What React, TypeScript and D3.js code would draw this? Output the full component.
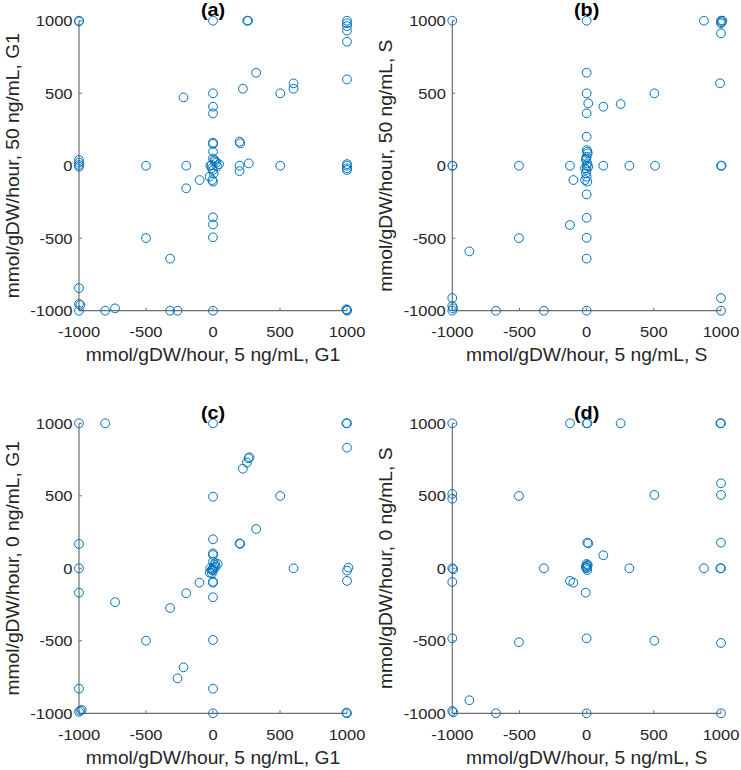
import React from "react";
import * as d3 from "d3";

// ---------- data ----------
const ticks = [-1000, -500, 0, 500, 1000];
const titles = ["(a)", "(b)", "(c)", "(d)"];
const xLabels = [
  "mmol/gDW/hour, 5 ng/mL, G1",
  "mmol/gDW/hour, 5 ng/mL, S",
  "mmol/gDW/hour, 5 ng/mL, G1",
  "mmol/gDW/hour, 5 ng/mL, S",
];
const yLabels = [
  "mmol/gDW/hour, 50 ng/mL, G1",
  "mmol/gDW/hour, 50 ng/mL, S",
  "mmol/gDW/hour, 0 ng/mL, G1",
  "mmol/gDW/hour, 0 ng/mL, S",
];

const aX = [-1000, -1000, 0, 255, 262, 1000, 1000, 1000, 1000, 1000, 1000, 322, 601, 601, 502, 223, -220, 0, 0, 0, 0, 0, 198, 203, 0,
  0, 10, 25, 45, -20, -8, 0, 5, -25, -5, 0, 15, -10, 30,
  198, 198, 267, 502, -500, -200, -100, -200, -1000, -1000, -1000, -1000, 1000, 1000, 1000, 1000,
  0, 0, 0, -500, -320, -1000, -1000, -990, -1000, -805, -731, -320, -265, 0, 1000, 995, 1000];
const aY = [1000, 995, 1000, 1000, 1000, 1000, 982, 963, 931, 855, 595, 641, 568, 531, 499, 531, 471, 499, 407, 361, 159, 150, 166, 154, 97,
  50, 39, 21, 11, 0, -18, -30, -53, -76, -99, -110, 30, 5, -5,
  0, -37, 16, 0, 0, 0, -99, -156, 39, 21, 5, -7, 11, 0, -18, -30,
  -356, -405, -494, -499, -641, -844, -954, -961, -1000, -1000, -984, -1000, -1000, -1000, -1000, -990, -995];

const bX = [-1000, 0, 873, 1000, 1005, 1000, 1010, 1000, 993, 0, 0, 12, 124, 253, 504, 0, 0,
  0, 5, 0, -5, 5, 0, -12, 12, 0, -5, 0, -12, 5, 8, -3,
  -124, -99, -504, -1000, -998, 124, 318, 509, 1000, 1005,
  0, 0, -124, 0, -504, -873, 0, -1000, -1000, -995, -1000, -675, -318, 0, 1000, 1000];
const bY = [1000, 1000, 1000, 1000, 990, 982, 1000, 913, 568, 641, 499, 430, 407, 425, 499, 361, 200,
  108, 97, 62, 39, 16, 0, -18, -7, -30, -53, -76, -99, -110, 85, 50,
  0, -99, 0, 0, 0, 0, 0, 0, 0, 0,
  -198, -359, -409, -497, -499, -591, -641, -913, -968, -984, -1000, -1000, -1000, -1000, -913, -1000];

const cX = [-1000, -805, 0, 995, 1000, 1000, 223, 253, 265, 272, 502, 0, 322, 0, 198, 203, 0, 0,
  0, 15, 35, -20, -8, 0, -25, -8, 10, 20, 5, -3,
  0, 0, -101, -200, 0, -731, -320, 601, 1000, 1010, 1000, -1000, -1000, -1000,
  -500, 0, -220, -265, 0, -1000, -1000, -990, -980, 0, 1000, 995];
const cY = [1000, 1000, 1000, 1000, 1000, 832, 687, 729, 759, 766, 499, 494, 271, 200, 172, 168, 103, 92,
  46, 35, 30, 0, -12, -16, -30, -35, 23, 10, 5, -5,
  -92, -99, -99, -172, -200, -234, -274, 0, -16, 5, -87, 168, 0, -168,
  -499, -494, -683, -759, -830, -830, -989, -982, -977, -1000, -1000, -995];

const dX = [-1000, -124, 0, 5, 253, 995, 1000, 1000, 1000, 504, -504, -1000, -1000, 5, 12, 124, 1000,
  0, 8, -5, 0, 5, -5, 3,
  -318, 318, 873, 995, 1000, -1000, -993, -1000, -124, -99, -7,
  -1000, 0, -504, 504, 1000, -873, -1000, -993, -675, 0, 1000];
const dY = [1000, 1000, 1000, 1000, 1000, 1000, 1000, 586, 506, 506, 499, 513, 480, 177, 172, 90, 177,
  30, 23, 12, 0, -12, 5, 18,
  0, 0, 0, 0, 0, 0, -7, -94, -87, -99, -168,
  -483, -483, -510, -499, -515, -910, -984, -993, -1000, -1000, -1000];

const seriesX = [aX, bX, cX, dX];
const seriesY = [aY, bY, cY, dY];

// ---------- layout ----------
const W = 741, H = 770;
const colX = [[79, 347], [452.3, 721]];
const rowY = [[20.7, 310.7], [423.3, 713.3]];
const FONT = "'Liberation Sans', Arial, Helvetica, sans-serif";
const SX = 1.1;
const BLUE = "#0072BD";
const AXIS = "#6e6e6e";
const TEXT = "#262626";

function T({ x, y, size, anchor = "middle", weight = "normal", rotate = 0, children }: any) {
  return (
    <text
      transform={`translate(${x},${y}) rotate(${rotate}) scale(${SX},1)`}
      fontSize={size}
      fontFamily={FONT}
      fontWeight={weight}
      textAnchor={anchor}
      fill={weight === "bold" ? "#000" : TEXT}
    >
      {children}
    </text>
  );
}

function Panel({ i }: { i: number }) {
  const [x0, x1] = colX[i % 2];
  const [y0, y1] = rowY[Math.floor(i / 2)];
  const xs = d3.scaleLinear().domain([-1000, 1000]).range([x0, x1]);
  const ys = d3.scaleLinear().domain([-1000, 1000]).range([y1, y0]);
  const px = seriesX[i];
  const py = seriesY[i];
  const tl = 3;
  return (
    <g>
      {/* axes */}
      <line x1={xs(-1000)} x2={xs(1000)} y1={ys(-1000)} y2={ys(-1000)} stroke={AXIS} strokeWidth={1.2} />
      <line x1={xs(-1000)} x2={xs(-1000)} y1={ys(-1000)} y2={ys(1000)} stroke={AXIS} strokeWidth={1.2} />
      {ticks.map((t) => (
        <g key={"t" + t}>
          <line x1={xs(t)} x2={xs(t)} y1={ys(-1000)} y2={ys(-1000) - tl} stroke={AXIS} strokeWidth={1} />
          <line x1={xs(-1000)} x2={xs(-1000) + tl} y1={ys(t)} y2={ys(t)} stroke={AXIS} strokeWidth={1} />
          <T x={xs(t)} y={ys(-1000) + 26.5} size={15}>{String(t)}</T>
          <T x={xs(-1000) - 6.5} y={ys(t) + 5.4} size={15} anchor="end">{String(t)}</T>
        </g>
      ))}
      {/* points */}
      {px.map((v, k) => (
        <circle key={k} cx={xs(v)} cy={ys(py[k])} r={4.4} fill="none" stroke={BLUE} strokeWidth={1} />
      ))}
      {/* labels */}
      <T x={(x0 + x1) / 2} y={y0 - 4.5} size={18} weight="bold">{titles[i]}</T>
      <T x={(x0 + x1) / 2} y={y1 + 50.5} size={17.5}>{xLabels[i]}</T>
      <T x={x0 - 60} y={(y0 + y1) / 2} size={17.5} rotate={-90}>{yLabels[i]}</T>
    </g>
  );
}

export default function App() {
  return (
    <svg
      width={W}
      height={H}
      viewBox={`0 0 ${W} ${H}`}
      style={{ position: "absolute", left: 0, top: 0, background: "#fff" }}
    >
      <rect width={W} height={H} fill="#fff" />
      {[0, 1, 2, 3].map((i) => (
        <Panel key={i} i={i} />
      ))}
    </svg>
  );
}
